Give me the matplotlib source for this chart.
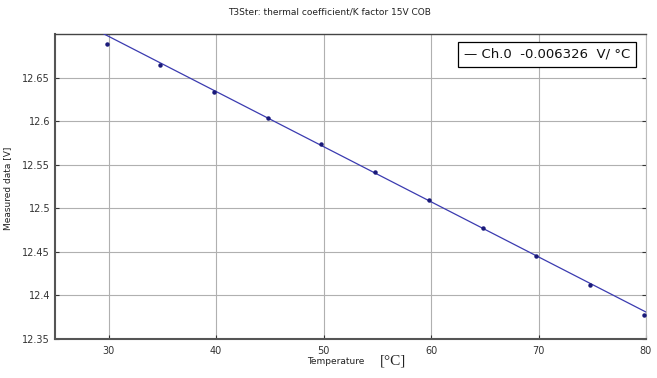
import matplotlib
matplotlib.use("Agg")
import matplotlib.pyplot as plt
import numpy as np

temperature = [29.8, 34.8, 39.8, 44.8, 49.8, 54.8, 59.8, 64.8, 69.8, 74.8, 79.8]
measured = [12.689, 12.664, 12.633, 12.604, 12.574, 12.542, 12.510, 12.477, 12.445, 12.412, 12.377]
fit_slope = -0.006326
fit_intercept = 12.887
xticks = [30, 40, 50, 60, 70, 80]
yticks = [12.35, 12.4, 12.45, 12.5, 12.55, 12.6, 12.65]
ytick_labels = ["12.35", "12.4", "12.45", "12.5", "12.55", "12.6", "12.65"]

fig = plt.figure(figsize=(6.57, 3.78), dpi=100)
ax = fig.add_axes([55/657, 1-339/378, (646-55)/657, (339-34)/378])

fx = np.array([25, 80])
ax.plot(fx, fit_intercept + fit_slope*fx, color="#3b3bb0", lw=0.9, zorder=3)
ax.plot(temperature, measured, "o", color="#1a1a7a", ms=2.2, zorder=4)

ax.set_xlim(25, 80)
ax.set_ylim(12.35, 12.70)
ax.set_xticks(xticks)
ax.set_yticks(yticks)
ax.set_yticklabels(ytick_labels)
ax.grid(True, color="#b0b0b0", lw=0.8)
ax.tick_params(labelsize=7, colors="#333333", length=3, direction="in", right=True, labelright=False)
ax.tick_params(axis="x", pad=5)
for side in ["left", "bottom"]:
    ax.spines[side].set_color("#555555")
    ax.spines[side].set_linewidth(1.5)
ax.spines["top"].set_color("#444444")
ax.spines["top"].set_linewidth(1.0)
ax.spines["right"].set_color("#bbbbbb")
ax.spines["right"].set_linewidth(0.8)

fig.text(330/657, 1-12/378, "T3Ster: thermal coefficient/K factor 15V COB", ha="center", va="center", fontsize=6.5, color="#222222")
fig.text(8/657, 1-188/378, "Measured data [V]", rotation=90, ha="center", va="center", fontsize=6.5, color="#222222")
fig.text(336/657, 1-362/378, "Temperature", ha="center", va="center", fontsize=6.5, color="#222222")
fig.text(393/657, 1-361/378, "[°C]", ha="center", va="center", fontsize=11, family="Liberation Serif", color="#222222")

ax.text(0.692, 0.955, "— Ch.0  -0.006326  V/ °C", transform=ax.transAxes, ha="left", va="top",
        fontsize=9.5, color="#111111",
        bbox=dict(boxstyle="square,pad=0.45", facecolor="white", edgecolor="black", lw=0.9), zorder=5)

fig.savefig("out.png", dpi=100)
